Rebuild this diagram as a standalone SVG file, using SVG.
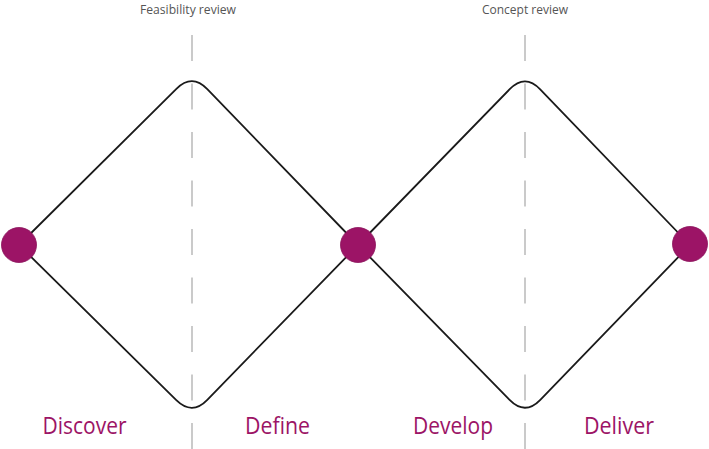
<svg xmlns="http://www.w3.org/2000/svg" width="709" height="449" viewBox="0 0 709 449">
<style>
.dash{stroke:#bdbdbd;stroke-width:1.6;stroke-dasharray:26 22.5;fill:none}
.dia{stroke:#1a1a1a;stroke-width:1.8;fill:none;stroke-linejoin:round}
.node{fill:#9c1466;stroke:#8a115a;stroke-width:0.8}
.phase{font-family:"Open Sans","Liberation Sans",sans-serif;font-size:24px;fill:#9c1466}
.rev{font-family:"Open Sans","Liberation Sans",sans-serif;font-size:12px;fill:#555555}
</style>
<rect width="709" height="449" fill="#ffffff"/>
<g id="review-lines">
<line class="dash" x1="192" y1="35" x2="192" y2="449"/>
<line class="dash" x1="525" y1="35" x2="525" y2="449"/>
<text class="rev" x="188" y="14" text-anchor="middle" textLength="96" lengthAdjust="spacingAndGlyphs">Feasibility review</text>
<text class="rev" x="525" y="14" text-anchor="middle" textLength="86" lengthAdjust="spacingAndGlyphs">Concept review</text>
</g>
<g id="connectors">
<path class="dia" d="M19,245 L176.4,88.9 Q192,73.4 207.3,89.2 L358,245 L207.3,399.8 Q192,415.6 176.3,400.2 Z"/>
<path class="dia" d="M358,245 L509.7,89.2 Q525,73.4 540.2,89.3 L690,245 L540.3,399.8 Q525,415.6 509.6,399.9 Z"/>
</g>
<g id="node-start"><circle class="node" cx="19" cy="245" r="17.5"/></g>
<g id="node-mid"><circle class="node" cx="358" cy="245" r="17.5"/></g>
<g id="node-end"><circle class="node" cx="690" cy="244" r="17.5"/></g>
<g id="labels">
<text class="phase" x="42.5" y="434" textLength="84" lengthAdjust="spacingAndGlyphs">Discover</text>
<text class="phase" x="245" y="434" textLength="65" lengthAdjust="spacingAndGlyphs">Define</text>
<text class="phase" x="413" y="434" textLength="80" lengthAdjust="spacingAndGlyphs">Develop</text>
<text class="phase" x="584" y="434" textLength="70" lengthAdjust="spacingAndGlyphs">Deliver</text>
</g>
</svg>
